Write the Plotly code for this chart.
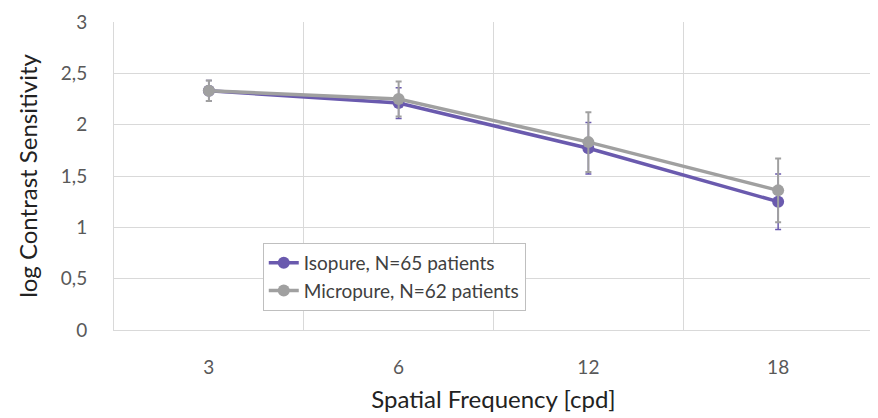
import plotly.graph_objects as go

categories = ["3", "6", "12", "18"]
isopure = [2.33, 2.21, 1.77, 1.25]
isopure_err = [0.10, 0.15, 0.25, 0.27]
micropure = [2.33, 2.25, 1.83, 1.36]
micropure_err = [0.10, 0.17, 0.29, 0.31]
y_ticks = [0, 0.5, 1, 1.5, 2, 2.5, 3]
y_labels = ["0", "0,5", "1", "1,5", "2", "2,5", "3"]

purple = "#6a5aae"
grey = "#a0a0a0"
font = "Lato, Open Sans, sans-serif"

fig = go.Figure()
fig.add_trace(go.Scatter(
    x=categories, y=isopure, name="Isopure, N=65 patients",
    mode="lines+markers",
    line=dict(color=purple, width=3.5),
    marker=dict(color=purple, size=12),
    error_y=dict(type="data", array=isopure_err, color=purple, thickness=1.5, width=3),
))
fig.add_trace(go.Scatter(
    x=categories, y=micropure, name="Micropure, N=62 patients",
    mode="lines+markers",
    line=dict(color=grey, width=3.5),
    marker=dict(color=grey, size=12),
    error_y=dict(type="data", array=micropure_err, color=grey, thickness=2, width=3),
))

fig.update_layout(
    width=870, height=410,
    margin=dict(l=106, r=5, t=14, b=88, autoexpand=False),
    paper_bgcolor="white", plot_bgcolor="white",
    font=dict(family=font, color="#595959", size=16),
    showlegend=True,
    legend=dict(
        x=0.196, y=0.283, xanchor="left", yanchor="top",
        bgcolor="white", bordercolor="#bfbfbf", borderwidth=1,
        font=dict(family=font, size=19, color="#404040"),
        itemwidth=30, tracegroupgap=0,
    ),
)
fig.update_xaxes(
    type="category", range=[-0.5, 3.5],
    tickson="boundaries",
    showgrid=True, gridcolor="#d9d9d9", gridwidth=1,
    showline=True, linecolor="#d9d9d9",
    ticks="", ticklabelstandoff=20,
    tickfont=dict(size=19, color="#595959"),
    title=dict(text="Spatial Frequency [cpd]", font=dict(size=24, color="#222222"), standoff=14),
)
fig.update_yaxes(
    range=[0, 3], tickvals=y_ticks, ticktext=y_labels,
    showgrid=True, gridcolor="#d9d9d9", gridwidth=1,
    showline=True, linecolor="#d9d9d9",
    zeroline=False,
    ticks="", ticklabelstandoff=22,
    tickfont=dict(size=19, color="#595959"),
    title=dict(text="log Contrast Sensitivity", font=dict(size=24, color="#222222"), standoff=16),
)

fig.write_html("out.html")
